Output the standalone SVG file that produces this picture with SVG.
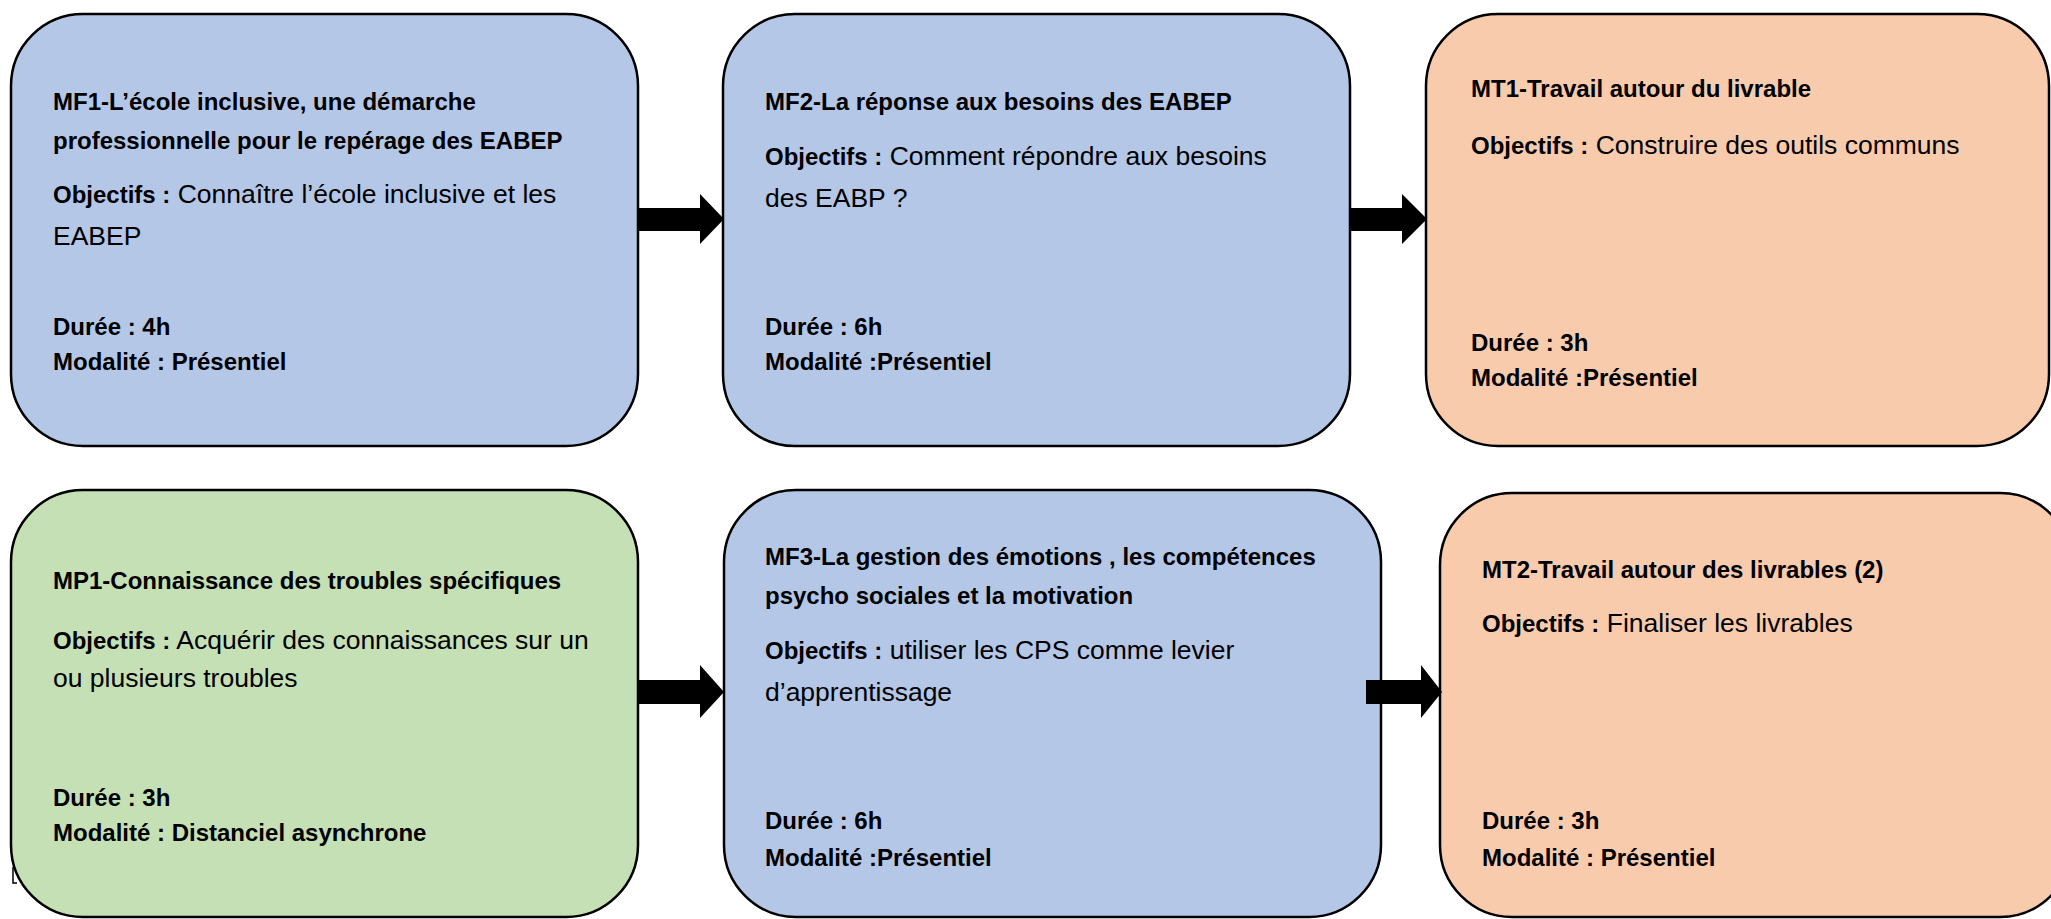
<svg xmlns="http://www.w3.org/2000/svg" width="2051" height="919" viewBox="0 0 2051 919">
<style>
.box{stroke:#000;stroke-width:2.5}
.blue{fill:#B4C7E7}.green{fill:#C5E0B4}.orange{fill:#F8CBAD}
text{font-family:"Liberation Sans",Arial,sans-serif;fill:#000}
.b{font-weight:bold;font-size:24px}
.r{font-weight:normal;font-size:26.5px}
.arrow{fill:#000}
</style>
<rect width="2051" height="919" fill="#fff"/>
<g id="MF1">
<rect class="box blue" x="11" y="14" width="627" height="432" rx="72"/>
<text class="b" x="53" y="110">MF1-L’école inclusive, une démarche</text>
<text class="b" x="53" y="149">professionnelle pour le repérage des EABEP</text>
<text x="53" y="203"><tspan class="b">Objectifs :</tspan><tspan class="r"> Connaître l’école inclusive et les</tspan></text>
<text class="r" x="53" y="245">EABEP</text>
<text class="b" x="53" y="335">Durée : 4h</text>
<text class="b" x="53" y="370">Modalité : Présentiel</text>
</g>
<g id="MF2">
<rect class="box blue" x="723" y="14" width="627" height="432" rx="72"/>
<text class="b" x="765" y="110">MF2-La réponse aux besoins des EABEP</text>
<text x="765" y="165"><tspan class="b">Objectifs :</tspan><tspan class="r"> Comment répondre aux besoins</tspan></text>
<text class="r" x="765" y="207">des EABP ?</text>
<text class="b" x="765" y="335">Durée : 6h</text>
<text class="b" x="765" y="370">Modalité :Présentiel</text>
</g>
<g id="MT1">
<rect class="box orange" x="1426" y="14" width="623" height="432" rx="72"/>
<text class="b" x="1471" y="97">MT1-Travail autour du livrable</text>
<text x="1471" y="154"><tspan class="b">Objectifs :</tspan><tspan class="r"> Construire des outils communs</tspan></text>
<text class="b" x="1471" y="351">Durée : 3h</text>
<text class="b" x="1471" y="386">Modalité :Présentiel</text>
</g>
<g id="MP1">
<path d="M13 867 V883 H17" fill="none" stroke="#000" stroke-width="1.5"/>
<rect class="box green" x="11" y="490" width="627" height="427" rx="72"/>
<text class="b" x="53" y="589">MP1-Connaissance des troubles spécifiques</text>
<text x="53" y="649"><tspan class="b">Objectifs :</tspan><tspan class="r"> Acquérir des connaissances sur un</tspan></text>
<text class="r" x="53" y="687">ou plusieurs troubles</text>
<text class="b" x="53" y="806">Durée : 3h</text>
<text class="b" x="53" y="841">Modalité : Distanciel asynchrone</text>
</g>
<g id="MF3">
<rect class="box blue" x="724" y="490" width="657" height="427" rx="72"/>
<text class="b" x="765" y="565">MF3-La gestion des émotions , les compétences</text>
<text class="b" x="765" y="604">psycho sociales et la motivation</text>
<text x="765" y="659"><tspan class="b">Objectifs :</tspan><tspan class="r"> utiliser les CPS comme levier</tspan></text>
<text class="r" x="765" y="701">d’apprentissage</text>
<text class="b" x="765" y="829">Durée : 6h</text>
<text class="b" x="765" y="866">Modalité :Présentiel</text>
</g>
<g id="MT2">
<rect class="box orange" x="1440" y="493" width="632" height="424" rx="72"/>
<text class="b" x="1482" y="578">MT2-Travail autour des livrables (2)</text>
<text x="1482" y="632"><tspan class="b">Objectifs :</tspan><tspan class="r"> Finaliser les livrables</tspan></text>
<text class="b" x="1482" y="829">Durée : 3h</text>
<text class="b" x="1482" y="866">Modalité : Présentiel</text>
</g>
<g id="connectors">
<polygon class="arrow" points="638,208 700,208 700,194 724,219 700,244 700,231 638,231"/>
<polygon class="arrow" points="1350,208 1402,208 1402,194 1427,219 1402,244 1402,231 1350,231"/>
<polygon class="arrow" points="638,680 700,680 700,665 724,692 700,718 700,704 638,704"/>
<polygon class="arrow" points="1366,680 1421,680 1421,665 1442,692 1421,718 1421,704 1366,704"/>
</g>
</svg>
